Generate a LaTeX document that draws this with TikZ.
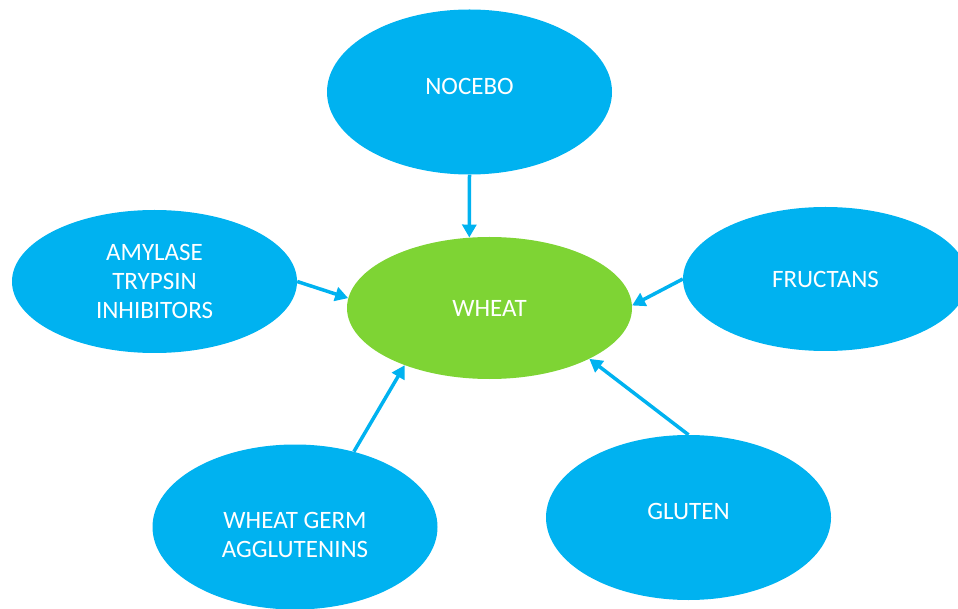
\documentclass[tikz,border=0pt]{standalone}
\usepackage{fontspec}
\setmainfont{Carlito}
\definecolor{factblue}{RGB}{0,178,240}
\definecolor{wheatgreen}{RGB}{126,212,52}
\usetikzlibrary{shapes.geometric}
\usetikzlibrary{arrows.meta}
\tikzset{
  factortext/.style={text=white, align=center, inner sep=0pt,
    font=\fontsize{25}{29}\selectfont},
  factor/.style={ellipse, fill=factblue, factortext,
    minimum width=285pt, minimum height=165pt},
  feeds/.style={draw=factblue, line width=3.5pt,
    -{Triangle[length=13pt,width=14pt]}}
}

\begin{document}
\begin{tikzpicture}[x=1pt, y=-1pt]

  \useasboundingbox (0,0) rectangle (958,609);

  \node [factor, fill=wheatgreen] (wheat) at (489.5,308) [minimum height=142pt] {WHEAT};

  % text sits a little off the centre in some of the ellipses
  \node [factor, label={[factortext, yshift=6pt]center:NOCEBO}] (nocebo) at (469.5,92) {};
  \node [factor, minimum height=143pt] (amylase) at (154.5,281.5) {AMYLASE\\TRYPSIN\\INHIBITORS};
  \node [factor, minimum height=144pt] (fructans) at (825.5,279) {FRUCTANS};
  \node [factor, label={[factortext, yshift=-8pt]center:{WHEAT GERM\\AGGLUTENINS}}] (germ) at (295,527) {};
  \node [factor, label={[factortext, yshift=6pt]center:GLUTEN}] (gluten) at (688.5,517.5) {};

  \draw [feeds] (nocebo.south) -- (wheat.106);
  \draw [feeds] (amylase.east) -- (wheat.176);
  \draw [feeds] (fructans.west) -- (wheat.1);
  \draw [feeds] (germ.52) -- (wheat.214);
  \draw [feeds] (gluten.north) -- (wheat.333);

\end{tikzpicture}
\end{document}
